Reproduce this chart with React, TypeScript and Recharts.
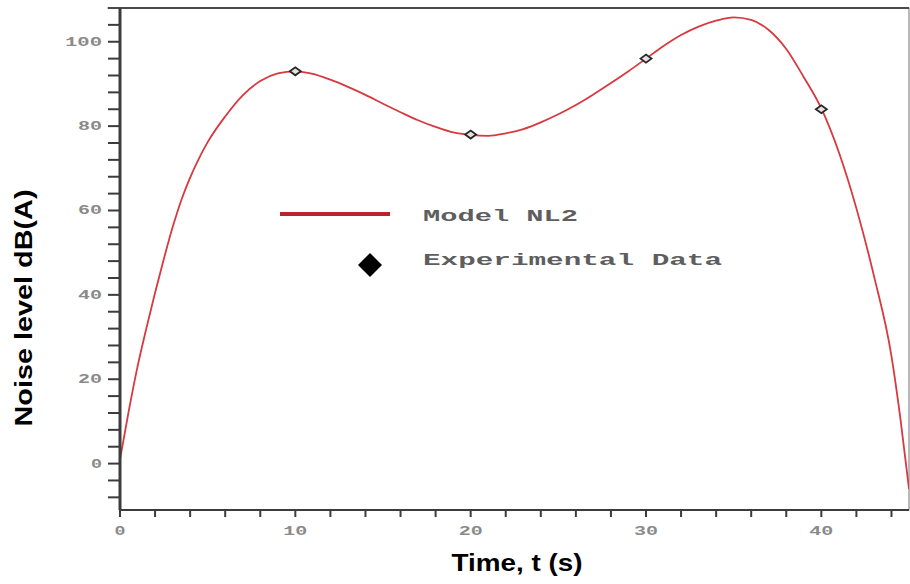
import { ComposedChart, Line, Scatter, XAxis, YAxis, ReferenceArea, ReferenceLine, Label } from "recharts";

// model curve NL2 (time s, noise dB(A))
const MODEL_T = [0, 0.5, 1, 1.5, 2, 2.5, 3, 3.5, 4, 4.5, 5, 6, 7, 8, 9, 10, 11, 12, 13, 14, 15, 16, 17, 18, 19, 20, 21, 22, 23, 24, 25, 26, 27, 28, 29, 30, 31, 32, 33, 34, 35, 36, 37, 38, 39, 40, 41, 42, 43, 44, 44.5, 45];
const MODEL_V = [1, 12.5, 23, 32, 40.5, 48.5, 56, 62.5, 67.8, 72.3, 76.2, 82.3, 87.3, 90.7, 92.5, 93, 92.4, 91, 89.3, 87.4, 85.3, 83.3, 81.4, 79.8, 78.5, 77.9, 77.7, 78.3, 79.3, 80.9, 82.8, 85, 87.5, 90.2, 93, 96, 99, 101.6, 103.6, 105, 105.8, 105.2, 102.8, 98.3, 91.6, 84.2, 73.8, 60.5, 44.5, 25.5, 11, -6];

// experimental points
const EXP_T = [10, 20, 30, 40];
const EXP_V = [93, 78, 96, 84];

const X_TICKS = [0, 2, 4, 6, 8, 10, 12, 14, 16, 18, 20, 22, 24, 26, 28, 30, 32, 34, 36, 38, 40, 42, 44];
const X_LABELS = [0, 10, 20, 30, 40];
const Y_TICKS = [-8, -4, 0, 4, 8, 12, 16, 20, 24, 28, 32, 36, 40, 44, 48, 52, 56, 60, 64, 68, 72, 76, 80, 84, 88, 92, 96, 100, 104];
const Y_LABELS = [0, 20, 40, 60, 80, 100];

const modelData = MODEL_T.map((t, i) => ({ t, v: MODEL_V[i] }));
const expData = EXP_T.map((t, i) => ({ t, v: EXP_V[i] }));

const AXIS = "#3c3c3c";
const TICK_FONT = "'Liberation Mono', 'DejaVu Sans Mono', monospace";

const XTick = (props: any) => {
  const { x, y, payload } = props;
  if (!X_LABELS.includes(payload.value)) return <g />;
  const s = String(payload.value);
  return (
    <text x={x} y={y + 16} textAnchor="middle" fontFamily={TICK_FONT} fontWeight="bold" fontSize={12}
      fill="#8a8a8a" textLength={13 * s.length - 2} lengthAdjust="spacingAndGlyphs">
      {s}
    </text>
  );
};

const YTick = (props: any) => {
  const { x, y, payload } = props;
  if (!Y_LABELS.includes(payload.value)) return <g />;
  const s = String(payload.value);
  return (
    <text x={x} y={y + 4} textAnchor="end" fontFamily={TICK_FONT} fontWeight="bold" fontSize={12}
      fill="#8a8a8a" textLength={13 * s.length - 2} lengthAdjust="spacingAndGlyphs">
      {s}
    </text>
  );
};

const Diamond = (props: any) => {
  const { cx, cy } = props;
  return (
    <polygon
      points={`${cx - 5.5},${cy} ${cx},${cy - 4} ${cx + 5.5},${cy} ${cx},${cy + 4}`}
      fill="#eadede"
      stroke="#262626"
      strokeWidth={1.8}
    />
  );
};

const ChartLegend = () => (
  <g>
    <line x1={280} y1={214} x2={390} y2={214} stroke="#b8262b" strokeWidth={4} />
    <text x={423} y={221} fontFamily={TICK_FONT} fontWeight="bold" fontSize={16} fill="#5e5e5e"
      textLength={155} lengthAdjust="spacingAndGlyphs">
      Model NL2
    </text>
    <polygon points="358,265 370,253 382,265 370,277" fill="#000" />
    <text x={423} y={265} fontFamily={TICK_FONT} fontWeight="bold" fontSize={16} fill="#5e5e5e"
      textLength={299} lengthAdjust="spacingAndGlyphs">
      Experimental Data
    </text>
  </g>
);

export default function App() {
  return (
    <div style={{ position: "absolute", left: 0, top: 0, background: "#fff" }}>
      <ComposedChart width={910} height={584} margin={{ top: 8, right: 1, bottom: 0, left: 0 }}>
        <ReferenceArea x1={0} x2={45} y1={-11} y2={108} fill="none" stroke="#8a8a8a" strokeWidth={1.2} ifOverflow="visible" />
        <ReferenceLine
          segment={[{ x: -0.7, y: 108 }, { x: 45, y: 108 }]}
          stroke="#4a4a4a"
          strokeWidth={2.2}
          ifOverflow="visible"
        />
        <XAxis
          type="number"
          dataKey="t"
          domain={[0, 45]}
          ticks={X_TICKS}
          interval={0}
          height={74}
          tickSize={7}
          tickMargin={2}
          tick={<XTick />}
          axisLine={{ stroke: AXIS, strokeWidth: 2 }}
          tickLine={{ stroke: AXIS, strokeWidth: 2 }}
          allowDataOverflow
        >
          <Label
            content={() => (
              <text x={517} y={571} textAnchor="middle" fontFamily="'Liberation Sans', Arial, sans-serif"
                fontWeight="bold" fontSize={24} fill="#000" textLength={131} lengthAdjust="spacingAndGlyphs">
                Time, t (s)
              </text>
            )}
          />
        </XAxis>
        <YAxis
          type="number"
          dataKey="v"
          domain={[-11, 108]}
          ticks={Y_TICKS}
          interval={0}
          width={120}
          tickSize={12}
          tickMargin={6}
          tick={<YTick />}
          axisLine={{ stroke: AXIS, strokeWidth: 3 }}
          tickLine={{ stroke: AXIS, strokeWidth: 2 }}
          allowDataOverflow
        >
          <Label
            content={() => (
              <text x={32} y={308} transform="rotate(-90 32 308)" textAnchor="middle"
                fontFamily="'Liberation Sans', Arial, sans-serif" fontWeight="bold" fontSize={24} fill="#000"
                textLength={237} lengthAdjust="spacingAndGlyphs">
                Noise level dB(A)
              </text>
            )}
          />
        </YAxis>
        <Line
          data={modelData}
          dataKey="v"
          type="monotone"
          stroke="#d8393f"
          strokeWidth={1.8}
          dot={false}
          isAnimationActive={false}
        />
        <Scatter data={expData} dataKey="v" shape={<Diamond />} isAnimationActive={false} />
        <ChartLegend />
      </ComposedChart>
    </div>
  );
}
